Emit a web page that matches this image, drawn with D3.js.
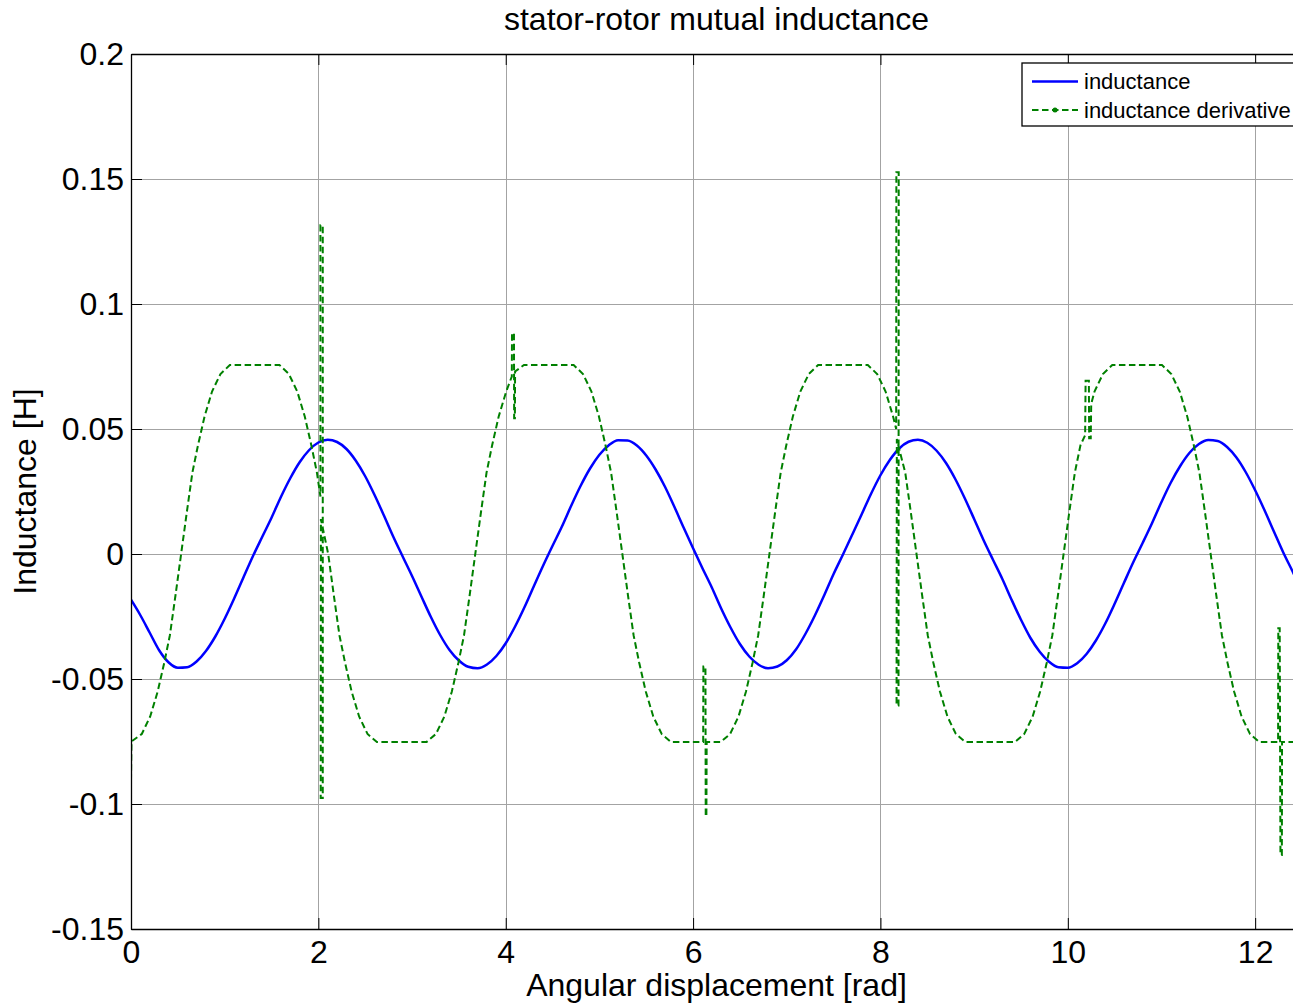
<!DOCTYPE html>
<html><head><meta charset="utf-8">
<script src="https://cdn.jsdelivr.net/npm/d3@7"></script>
<style>body{margin:0;background:#fff}svg{display:block}</style>
</head><body><svg id="c" width="1293" height="1005"></svg>
<script>
const chartTitle = "stator-rotor mutual inductance";
const xLabel = "Angular displacement [rad]";
const yLabel = "Inductance [H]";
const seriesNames = ["inductance", "inductance derivative"];
const xTicks = [0, 2, 4, 6, 8, 10, 12];
const xTickLabels = ["0", "2", "4", "6", "8", "10", "12"];
const yTicks = [-0.15, -0.1, -0.05, 0, 0.05, 0.1, 0.15, 0.2];
const yTickLabels = ["-0.15", "-0.1", "-0.05", "0", "0.05", "0.1", "0.15", "0.2"];
const xDomain = [0, 12.5];
const yDomain = [-0.15, 0.2];

// inductance series (angle in rad, value in H)
const thetaL = [0,0.1,0.2,0.3,0.4,0.5,0.6,0.7,0.8,0.9,1,1.1,1.2,1.3,1.4,1.5,1.6,1.7,1.8,1.9,
2,2.1,2.2,2.3,2.4,2.5,2.6,2.7,2.8,2.9,3,3.1,3.2,3.3,3.4,3.5,3.6,3.7,3.8,3.9,
4,4.1,4.2,4.3,4.4,4.5,4.6,4.7,4.8,4.9,5,5.1,5.2,5.3,5.4,5.5,5.6,5.7,5.8,5.9,
6,6.1,6.2,6.3,6.4,6.5,6.6,6.7,6.8,6.9,7,7.1,7.2,7.3,7.4,7.5,7.6,7.7,7.8,7.9,
8,8.1,8.2,8.3,8.4,8.5,8.6,8.7,8.8,8.9,9,9.1,9.2,9.3,9.4,9.5,9.6,9.7,9.8,9.9,
10,10.1,10.2,10.3,10.4,10.5,10.6,10.7,10.8,10.9,11,11.1,11.2,11.3,11.4,11.5,11.6,11.7,11.8,11.9,
12,12.1,12.2,12.3,12.4,12.5];
const inductance = [-0.0183,-0.0245,-0.0315,-0.0385,-0.0433,-0.0455,-0.0453,-0.0430,-0.0388,-0.0330,
-0.0259,-0.0179,-0.0094,-0.0010,0.0068,0.0145,0.0228,0.0303,0.0367,0.0415,
0.0446,0.0457,0.0448,0.0420,0.0373,0.0311,0.0236,0.0154,0.0069,-0.0010,
-0.0088,-0.0170,-0.0251,-0.0324,-0.0384,-0.0426,-0.0451,-0.0457,-0.0442,-0.0408,
-0.0357,-0.0290,-0.0213,-0.0129,-0.0046,0.0033,0.0110,0.0194,0.0273,0.0342,
0.0397,0.0435,0.0455,0.0454,0.0434,0.0394,0.0338,0.0269,0.0189,0.0105,
0.0023,-0.0057,-0.0134,-0.0218,-0.0294,-0.0360,-0.0410,-0.0443,-0.0457,-0.0450,
-0.0425,-0.0381,-0.0319,-0.0246,-0.0165,-0.0080,-0.0002,0.0078,0.0159,0.0241,
0.0315,0.0376,0.0422,0.0449,0.0457,0.0445,0.0413,0.0364,0.0299,0.0223,
0.0140,0.0056,-0.0022,-0.0099,-0.0183,-0.0263,-0.0335,-0.0391,-0.0431,-0.0453,
-0.0455,-0.0437,-0.0400,-0.0346,-0.0278,-0.0199,-0.0115,-0.0032,0.0045,0.0124,
0.0208,0.0286,0.0352,0.0405,0.0440,0.0456,0.0452,0.0428,0.0386,0.0327,
0.0255,0.0175,0.0090,0.0006,-0.0070,-0.0149];

// inductance derivative series (angle in rad, value as plotted)
const thetaD = [0,0.005,0.115,0.205,0.285,0.355,0.415,0.475,0.535,0.595,0.655,0.715,0.785,0.865,0.955,1.055,
1.585,1.685,1.775,1.855,1.925,1.985,2.022,2.022,2.047,2.047,2.025,2.027,2.105,2.165,2.225,2.285,2.355,2.435,2.525,2.625,
3.155,3.255,3.345,3.425,3.495,3.555,3.615,3.675,3.735,3.795,3.855,3.925,4.005,4.065,4.067,4.088,4.09,4.098,4.1,4.195,
4.725,4.825,4.915,4.995,5.065,5.125,5.185,5.245,5.305,5.365,5.425,5.495,5.575,5.665,5.765,
6.108,6.11,6.132,6.135,6.142,6.145,6.295,6.395,6.485,6.565,6.635,6.695,6.755,6.815,6.875,6.935,6.995,7.065,7.145,7.235,7.335,
7.865,7.965,8.055,8.135,8.168,8.17,8.195,8.193,8.172,8.175,8.2,8.265,8.325,8.385,8.445,8.505,8.565,8.635,8.715,8.805,8.905,
9.435,9.535,9.625,9.705,9.775,9.835,9.895,9.955,10.015,10.075,10.135,10.185,10.19,10.225,10.228,10.245,10.25,10.285,10.375,10.475,
11.005,11.105,11.195,11.275,11.345,11.405,11.465,11.525,11.585,11.645,11.705,11.775,11.855,11.945,12.045,
12.245,12.247,12.262,12.27,12.285,12.287,12.5];
const derivative = [-0.0907,-0.0750,-0.0720,-0.0650,-0.0550,-0.0435,-0.0325,-0.0165,0,0.0165,0.0325,0.0435,0.0550,0.0650,0.0720,0.0756,
0.0756,0.0720,0.0650,0.0550,0.0435,0.0325,0.0230,0.1315,0.1315,-0.0976,-0.0976,0.0140,0,-0.0165,-0.0325,-0.0435,-0.0550,-0.0650,-0.0720,-0.0752,
-0.0752,-0.0720,-0.0650,-0.0550,-0.0435,-0.0325,-0.0165,0,0.0165,0.0325,0.0435,0.0550,0.0650,0.0710,0.0883,0.0883,0.0543,0.0543,0.0730,0.0756,
0.0756,0.0720,0.0650,0.0550,0.0435,0.0325,0.0165,0,-0.0165,-0.0325,-0.0435,-0.0550,-0.0650,-0.0720,-0.0752,
-0.0752,-0.0450,-0.0450,-0.1050,-0.1050,-0.0752,-0.0752,-0.0720,-0.0650,-0.0550,-0.0435,-0.0325,-0.0165,0,0.0165,0.0325,0.0435,0.0550,0.0650,0.0720,0.0756,
0.0756,0.0720,0.0650,0.0550,0.0500,0.1527,0.1527,-0.0606,-0.0606,0.0460,0.0420,0.0325,0.0165,0,-0.0165,-0.0325,-0.0435,-0.0550,-0.0650,-0.0720,-0.0752,
-0.0752,-0.0720,-0.0650,-0.0550,-0.0435,-0.0325,-0.0165,0,0.0165,0.0325,0.0435,0.0475,0.0693,0.0693,0.0463,0.0463,0.0600,0.0650,0.0720,0.0756,
0.0756,0.0720,0.0650,0.0550,0.0435,0.0325,0.0165,0,-0.0165,-0.0325,-0.0435,-0.0550,-0.0650,-0.0720,-0.0752,
-0.0752,-0.0297,-0.0297,-0.1204,-0.1204,-0.0752,-0.0752];

const FONT = "'Liberation Sans', Arial, Helvetica, sans-serif";
const W = 1293, H = 1005;
const plot = {left: 131, right: 1302, top: 54, bottom: 929};
const svg = d3.select("#c");
svg.append("rect").attr("width", W).attr("height", H).attr("fill", "#fff");

const x = d3.scaleLinear().domain(xDomain).range([plot.left, plot.right]);
const y = d3.scaleLinear().domain(yDomain).range([plot.bottom, plot.top]);

svg.append("defs").append("clipPath").attr("id", "clip")
  .append("rect").attr("x", plot.left).attr("y", plot.top)
  .attr("width", plot.right - plot.left).attr("height", plot.bottom - plot.top);

// grid
const gx = svg.append("g").attr("transform", `translate(0,${plot.bottom})`)
  .call(d3.axisBottom(x).tickValues(xTicks).tickSize(-(plot.bottom - plot.top)).tickFormat(""));
const gy = svg.append("g").attr("transform", `translate(${plot.left},0)`)
  .call(d3.axisLeft(y).tickValues(yTicks).tickSize(-(plot.right - plot.left)).tickFormat(""));
[gx, gy].forEach(g => {
  g.select(".domain").remove();
  g.selectAll("line").attr("stroke", "#a3a3a3").attr("stroke-width", 1).attr("shape-rendering", "crispEdges");
});

// data lines
const lineL = d3.line().x((d, i) => x(thetaL[i])).y(d => y(d)).curve(d3.curveMonotoneX);
const lineD = d3.line().x((d, i) => x(thetaD[i])).y(d => y(d));
const plotG = svg.append("g").attr("clip-path", "url(#clip)");
plotG.append("path").datum(inductance).attr("d", lineL)
  .attr("fill", "none").attr("stroke", "#0000ff").attr("stroke-width", 2.5).attr("stroke-linejoin", "round");
plotG.append("path").datum(derivative).attr("d", lineD)
  .attr("fill", "none").attr("stroke", "#008000").attr("stroke-width", 2)
  .attr("stroke-dasharray", "6.5,3.5");

// axes
const fmtX = d => xTickLabels[xTicks.indexOf(d)];
const fmtY = d => yTickLabels[yTicks.indexOf(d)];
const axB = svg.append("g").attr("transform", `translate(0,${plot.bottom})`)
  .call(d3.axisBottom(x).tickValues(xTicks).tickSizeInner(-11).tickSizeOuter(0).tickPadding(11).tickFormat(fmtX));
const axL = svg.append("g").attr("transform", `translate(${plot.left},0)`)
  .call(d3.axisLeft(y).tickValues(yTicks).tickSizeInner(-11).tickSizeOuter(0).tickPadding(7).tickFormat(fmtY));
const axT = svg.append("g").attr("transform", `translate(0,${plot.top})`)
  .call(d3.axisTop(x).tickValues(xTicks).tickSizeInner(-11).tickSizeOuter(0).tickFormat(""));
[axB, axL, axT].forEach(g => {
  g.select(".domain").attr("stroke", "#000").attr("stroke-width", 1.3);
  g.selectAll("line").attr("stroke", "#000").attr("stroke-width", 1);
  g.selectAll("text").attr("fill", "#000").style("font-family", FONT).style("font-size", "32px");
});
svg.append("line").attr("x1", plot.right).attr("x2", plot.right).attr("y1", plot.top).attr("y2", plot.bottom)
  .attr("stroke", "#000").attr("stroke-width", 1.3);

// title & labels
svg.append("text").attr("x", (plot.left + plot.right) / 2).attr("y", 30)
  .attr("text-anchor", "middle").style("font-family", FONT).style("font-size", "32px").text(chartTitle);
svg.append("text").attr("x", (plot.left + plot.right) / 2).attr("y", 996)
  .attr("text-anchor", "middle").style("font-family", FONT).style("font-size", "32px").text(xLabel);
svg.append("text").attr("transform", `translate(36,${(plot.top + plot.bottom) / 2}) rotate(-90)`)
  .attr("text-anchor", "middle").style("font-family", FONT).style("font-size", "32px").text(yLabel);

// legend
const lg = svg.append("g");
lg.append("rect").attr("x", 1022).attr("y", 63).attr("width", 290).attr("height", 63)
  .attr("fill", "#fff").attr("stroke", "#000").attr("stroke-width", 1.3);
const rows = [81.5, 110];
lg.append("line").attr("x1", 1032).attr("x2", 1078).attr("y1", rows[0]).attr("y2", rows[0])
  .attr("stroke", "#0000ff").attr("stroke-width", 2.5);
lg.append("line").attr("x1", 1032).attr("x2", 1078).attr("y1", rows[1]).attr("y2", rows[1])
  .attr("stroke", "#008000").attr("stroke-width", 2).attr("stroke-dasharray", "6.5,3.5");
lg.append("circle").attr("cx", 1055).attr("cy", rows[1]).attr("r", 2.5).attr("fill", "#008000");
seriesNames.forEach((n, i) => {
  lg.append("text").attr("x", 1084).attr("y", rows[i]).attr("dy", "0.35em")
    .style("font-family", FONT).style("font-size", "22px").attr("fill", "#000").text(n);
});
</script></body></html>
